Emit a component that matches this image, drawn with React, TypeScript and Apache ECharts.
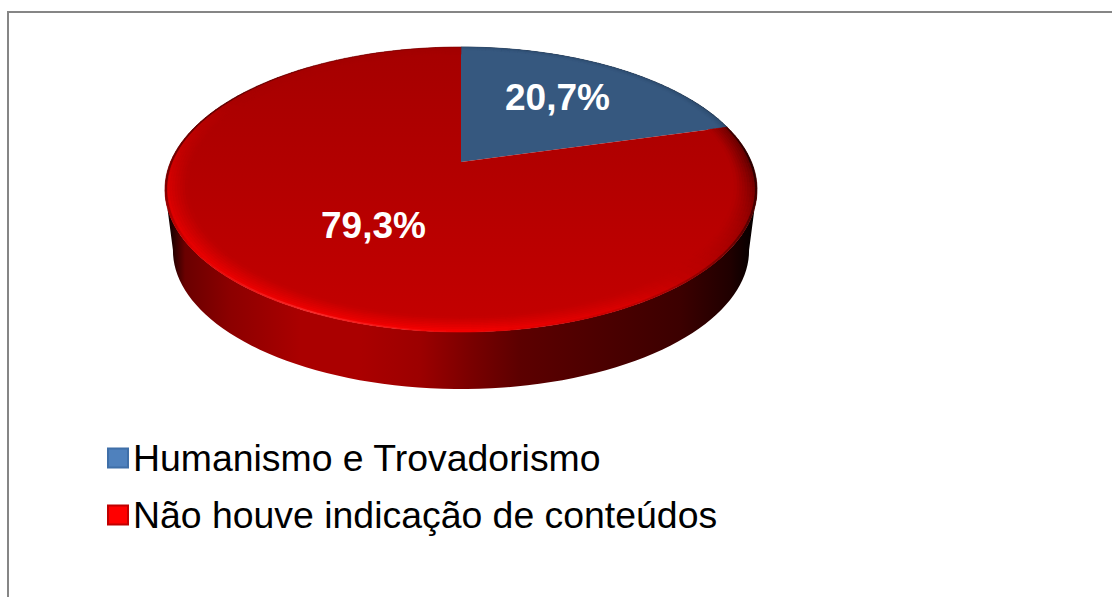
import React, { useEffect, useRef } from "react";
import * as echarts from "echarts";

const categories = ["Humanismo e Trovadorismo", "Não houve indicação de conteúdos"];
const values = [20.7, 79.3];
const legendColors = ["#4f81bd", "#ff0000"];
const legendBorders = ["#3f6fa8", "#c00000"];
const labelPositions = [[557.5, 97], [373.5, 225]];

const FONT = '"Liberation Sans", Arial, sans-serif';
const CX = 461, CY = 162, R = 290.5, A = 137.2, K = 0.193;
const BOTTOM_SCALE = 0.973, BOTTOM_CY = 223.6;
const RIM_WIDTH = 0.075;

const hex = (s: string) => [1, 3, 5].map((i) => parseInt(s.slice(i, i + 2), 16));
const mix = (a: number[], b: number[], t: number) => a.map((v, i) => v + (b[i] - v) * t);
const css = (c: number[]) => `rgb(${c.map((v) => Math.round(v)).join(",")})`;

// rim shading per angle, degrees clockwise from the top of the disc
const rimAngles = [0, 60, 90, 115, 150, 180, 205, 235, 262, 300, 330, 360];
const rimOuter = ["#700000", "#400000", "#000000", "#300000", "#b00000", "#f80000", "#ff4040", "#e00000", "#400000", "#300000", "#600000", "#700000"];
const rimMiddle = ["#a00000", "#800000", "#600000", "#980000", "#d80000", "#f40000", "#f00000", "#e80000", "#d80000", "#a80000", "#a40000", "#a00000"];

const sideStops: [number, string][] = [
  [165, "#000000"], [172, "#200000"], [185, "#6a0000"], [230, "#8c0000"], [300, "#aa0000"], [360, "#aa0000"],
  [420, "#9c0000"], [470, "#7a0000"], [520, "#5c0000"], [600, "#4c0000"], [680, "#3c0000"], [730, "#200000"], [757, "#000000"],
];

function project(deg: number, r = 1, scale = 1, cy = CY): [number, number] {
  const t = (deg * Math.PI) / 180;
  const u = Math.sin(t) * r, v = Math.cos(t) * r;
  const d = 1 + K * v;
  return [CX + (R * scale * u) / d, cy - (A * scale * v) / d];
}

function lerpTable(deg: number, table: string[]) {
  const a = ((deg % 360) + 360) % 360;
  for (let i = 0; i < rimAngles.length - 1; i++) {
    if (a <= rimAngles[i + 1]) {
      const t = (a - rimAngles[i]) / (rimAngles[i + 1] - rimAngles[i]);
      return mix(hex(table[i]), hex(table[i + 1]), t);
    }
  }
  return hex(table[0]);
}

const redFace = (y: number) => mix(hex("#a50000"), hex("#c40000"), Math.max(0, Math.min(1, (y - 47) / 285)));
const blueFace = () => hex("#36587f");

function radialColor(outer: number[], middle: number[], face: number[], t: number) {
  if (t < 0.15) return mix(outer, middle, t / 0.15);
  return mix(middle, face, Math.pow((t - 0.15) / 0.85, 0.85));
}

function sector(start: number, end: number, index: number, value: number) {
  const children: any[] = [];
  const steps = Math.ceil((end - start) / 2);
  const isRed = index === 1;
  if (isRed) {
    const pts: number[][] = [];
    for (let a = 259; a >= 101; a -= 2) pts.push(project(a, 1, BOTTOM_SCALE, BOTTOM_CY));
    for (let a = 101; a <= 259; a += 2) pts.push(project(a));
    children.push({
      type: "polygon",
      shape: { points: pts },
      style: {
        fill: {
          type: "linear", x: 165, y: 0, x2: 757, y2: 0, global: true,
          colorStops: sideStops.map(([x, color]) => ({ offset: (x - 165) / 592, color })),
        },
      },
    });
  }
  const facePts: number[][] = [[CX, CY]];
  for (let i = 0; i <= steps; i++) facePts.push(project(start + ((end - start) * i) / steps));
  children.push({
    type: "polygon",
    shape: { points: facePts },
    style: isRed
      ? {
          fill: {
            type: "linear", x: 0, y: 47, x2: 0, y2: 332, global: true,
            colorStops: [{ offset: 0, color: "#a50000" }, { offset: 1, color: "#c40000" }],
          },
        }
      : { fill: css(blueFace()) },
  });
  const layers = 9;
  const rimWidth = isRed ? RIM_WIDTH : RIM_WIDTH * 0.4;
  for (let l = 0; l < layers; l++) {
    const r0 = 1 - (rimWidth * l) / layers;
    const r1 = 1 - (rimWidth * (l + 1)) / layers;
    const t = (l + 0.5) / layers;
    for (let i = 0; i < steps; i++) {
      const a0 = start + ((end - start) * i) / steps;
      const a1 = start + ((end - start) * (i + 1)) / steps;
      const mid = (a0 + a1) / 2;
      const p = project(mid, (r0 + r1) / 2);
      const outer = isRed ? lerpTable(mid, rimOuter) : hex("#1a2838");
      const middle = isRed ? lerpTable(mid, rimMiddle) : hex("#2f4d70");
      const face = isRed ? redFace(p[1]) : blueFace();
      const c = css(radialColor(outer, middle, face, t));
      children.push({
        type: "polygon",
        shape: { points: [project(a0, r0), project(a1, r0), project(a1, r1), project(a0, r1)] },
        style: { fill: c, stroke: c, lineWidth: 0.6 },
      });
    }
  }
  children.push({
    type: "text",
    style: {
      x: labelPositions[index][0],
      y: labelPositions[index][1],
      text: `${value.toFixed(1).replace(".", ",")}%`,
      fill: "#ffffff",
      font: `bold 37px ${FONT}`,
      align: "center",
      verticalAlign: "middle",
    },
    z2: 100,
  });
  return { type: "group", children };
}

export default function App() {
  const ref = useRef<HTMLDivElement>(null);
  useEffect(() => {
    document.body.style.margin = "0";
    const chart = echarts.init(ref.current!, undefined, { renderer: "svg" });
    const total = values.reduce((a, b) => a + b, 0);
    let acc = 0;
    const ranges = values.map((v) => {
      const s = (acc / total) * 360;
      acc += v;
      return [s, (acc / total) * 360];
    });
    chart.setOption({
      animation: false,
      backgroundColor: "#ffffff",
      legend: {
        left: 102,
        top: 433,
        orient: "vertical",
        itemWidth: 20,
        itemHeight: 19,
        itemGap: 17,
        selectedMode: false,
        icon: "rect",
        textStyle: { fontFamily: FONT, fontSize: 37.4, color: "#000000", lineHeight: 40 },
        data: categories.map((name) => ({ name })),
      },
      graphic: [
        {
          type: "polyline",
          shape: { points: [[8, 597], [8, 12], [1112, 12]] },
          style: { stroke: "#868686", lineWidth: 2, fill: "none" },
        },
      ],
      series: categories.map((name, i) => ({
        type: "custom",
        name,
        coordinateSystem: "none",
        silent: true,
        itemStyle: { color: legendColors[i], borderColor: legendBorders[i], borderWidth: 1 },
        data: [[values[i]]],
        renderItem: (_: any, api: any) => sector(ranges[i][0], ranges[i][1], i, api.value(0)),
      })),
    });
    return () => chart.dispose();
  }, []);
  return <div ref={ref} style={{ width: 1112, height: 597 }} />;
}
